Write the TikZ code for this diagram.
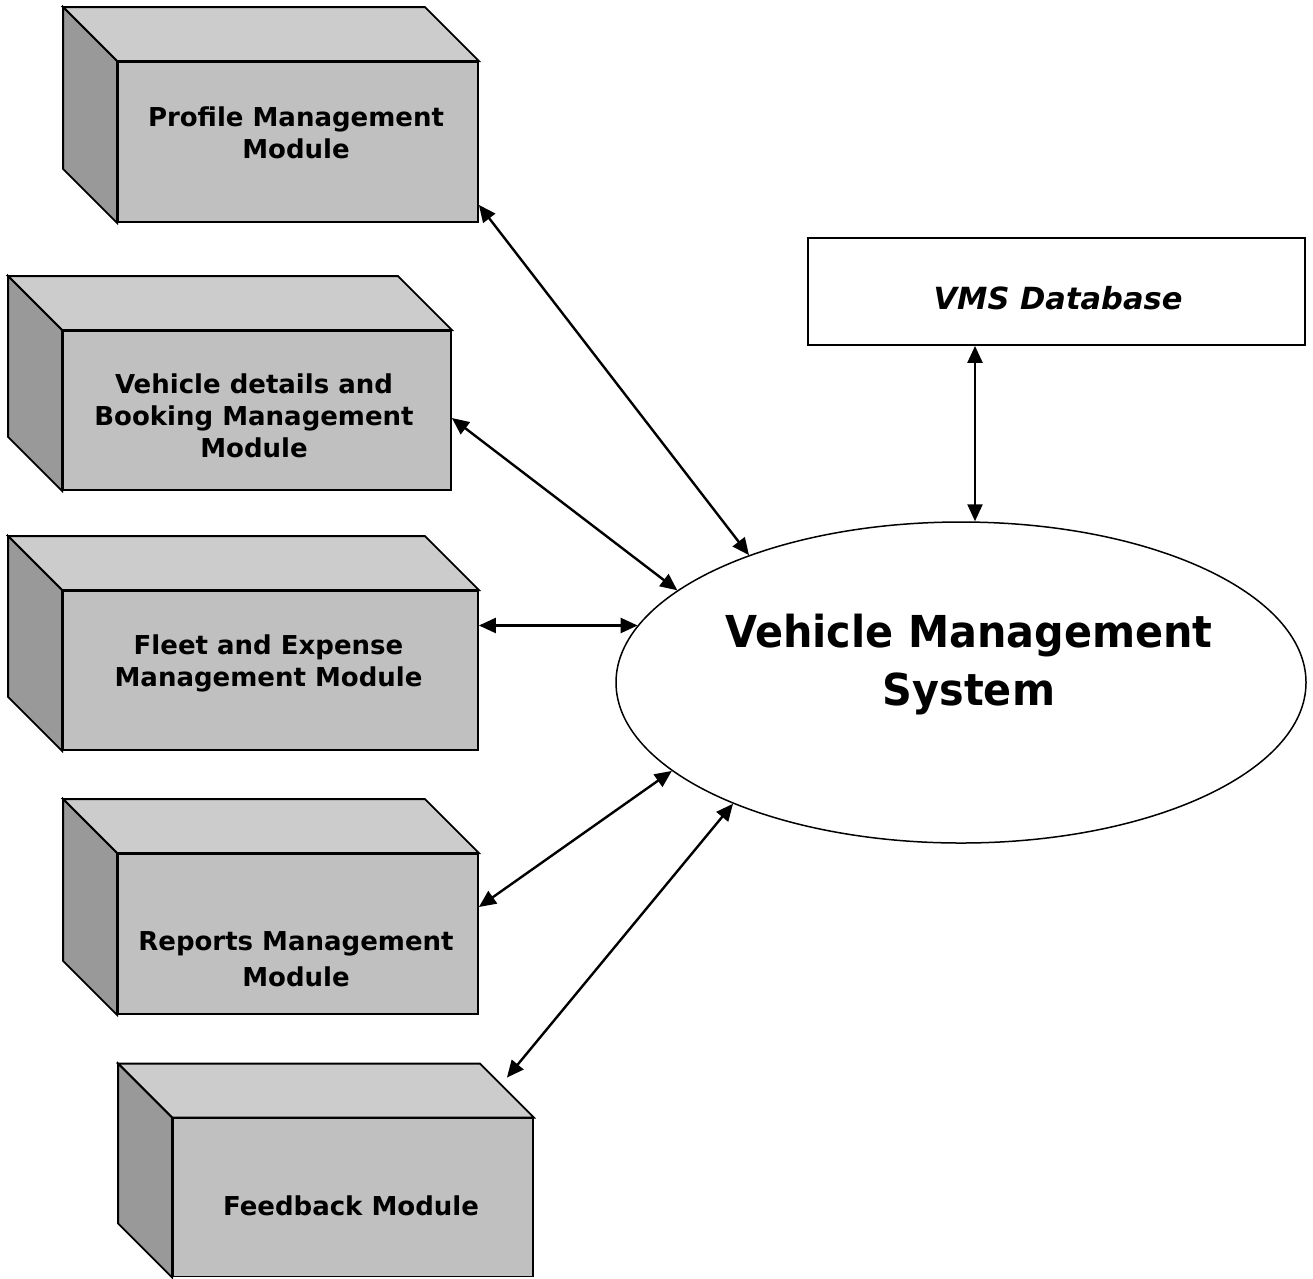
\documentclass[tikz,border=0pt]{standalone}
\usepackage{fontspec}
\setmainfont{DejaVu Sans}
\newfontfamily\bigsysfont{DejaVu Sans}[FakeStretch=0.94]
\usetikzlibrary{arrows.meta,shapes.geometric}
\definecolor{topgray}{HTML}{CCCCCC}
\definecolor{frontgray}{HTML}{C0C0C0}
\definecolor{sidegray}{HTML}{999999}
\newcommand\drawcubefaces[1]{%
  \filldraw[cubeline,fill=topgray] (#1.north west) -- ++(-54,-54) -- ([shift={(-54,-54)}]#1.north east) -- (#1.north east) -- cycle;
  \filldraw[cubeline,fill=sidegray] (#1.north west) -- ++(-54,-54) -- ([shift={(-54,-54)}]#1.south west) -- (#1.south west) -- cycle;
}
\begin{document}
\begin{tikzpicture}[x=1pt,y=-1pt,
  cubeline/.style={draw=black,line width=1.8pt,line join=miter},
  front/.style={rectangle,draw=black,line width=1.8pt,fill=frontgray,inner sep=0pt,minimum height=160pt},
  modtext/.style={font=\fontsize{26}{32}\selectfont\bfseries,align=center,inner sep=0pt,anchor=north},
  conn/.style={line width=2.4pt,{Triangle[length=17pt,width=15pt]}-{Triangle[length=17pt,width=15pt]}}
]
\useasboundingbox (0,0) rectangle (1313,1278);
\fill[white] (0,0) rectangle (1313,1278);

% cubes
\node[front,minimum width=360pt] (c1) at (298,142) {};
\drawcubefaces{c1}
\node[front,minimum width=388pt,minimum height=159pt] (c2) at (257,410.5) {};
\drawcubefaces{c2}
\node[front,minimum width=415pt,minimum height=159pt] (c3) at (270.5,670.5) {};
\drawcubefaces{c3}
\node[front,minimum width=360pt] (c4) at (298,934) {};
\drawcubefaces{c4}
\node[front,minimum width=360pt,minimum height=158pt] (c5) at (353,1197.5) {};
\drawcubefaces{c5}

% texts
\node[modtext] (t1) at (296,107) {Profile Management\\Module};
\node[modtext] (t2) at (254,374) {Vehicle details and\\Booking Management\\Module};
\node[modtext] (t3) at (268.5,635) {Fleet and Expense\\Management Module};
\node[modtext,font=\fontsize{26}{36}\selectfont\bfseries] (t4) at (296,931) {Reports Management\\Module};
\node[modtext] (t5) at (351,1196) {Feedback Module};

% database
\node[rectangle,draw=black,line width=1.8pt,minimum width=497pt,minimum height=107pt,inner sep=0pt] (db) at (1056.5,291.5) {};
\node[inner sep=0pt,anchor=north,font=\fontsize{30.5}{34}\selectfont\bfseries\itshape] (dbt) at (1058,286.5) {VMS Database};

% main system
\node[ellipse,draw=black,line width=1.5pt,minimum width=690pt,minimum height=321pt,inner sep=0pt] (vms) at (961,682.5) {};
\node[inner sep=0pt,anchor=north,align=center,font=\bigsysfont\fontsize{44}{58}\selectfont\bfseries] (vmst) at (969,614) {Vehicle Management\\System};

% connectors
\draw[conn] ([yshift=18pt]c1.south east) -- (vms.149);
\draw[conn] ([yshift=-7.5pt]c2.east) -- (vms.162.9);
\draw[conn] (c3.east |- vms.170.6) -- (vms.170.6);
\draw[conn] ([yshift=27pt]c4.east) -- (vms.197.5);
\draw[conn] ([shift={(-27,-40)}]c5.north east) -- (vms.208.4);
\coordinate (dbv) at ([xshift=14pt]vms.north);
\draw[conn] (dbv |- db.south) -- (dbv);
\end{tikzpicture}
\end{document}
